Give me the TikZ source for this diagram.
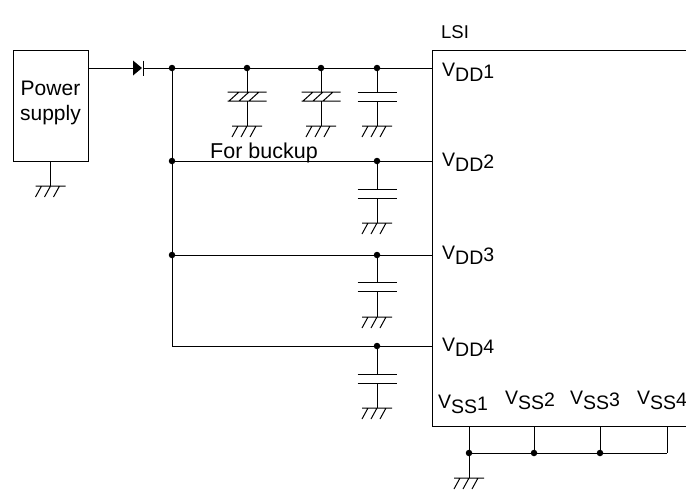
\documentclass[tikz,border=0pt]{standalone}
\usepackage{fontspec}
\setmainfont{Liberation Sans}
\newcommand\pinlab[2]{V\raisebox{-5pt}{#1}\raisebox{-2.5pt}{#2}}
\tikzset{
  wire/.style={line width=1pt},
  jdot/.style={circle, fill, inner sep=0pt, minimum size=6.5pt},
  lbl/.style={anchor=base west, inner sep=0pt, font=\fontsize{19.5}{23}\selectfont},
  big/.style={anchor=base, inner sep=0pt, font=\fontsize{21}{25}\selectfont},
  gnd/.pic={\draw[wire] (-15,0) -- (15,0) (-15,11) -- (-9,0) (-6,11) -- (0,0) (3,11) -- (9,0);},
  capp/.pic={\draw[wire] (-19.5,0) -- (19.5,0) (-19.5,9) -- (19.5,9);},
  hcapp/.pic={\draw[wire] (-19.5,0) -- (19.5,0) (-19.5,9) -- (19.5,9)
      (-18,9) -- (-8,0) (-8,9) -- (2,0) (2,9) -- (12,0);},
}
\begin{document}
\begin{tikzpicture}[x=1pt,y=-1pt]
\useasboundingbox (0,0) rectangle (686,491);
% power supply
\node[draw, wire, minimum width=75pt, minimum height=111pt, inner sep=0pt] (ps) at (50.5,105.5) {};
\node[big] (pst1) at (50.5,95) {Power};
\node[big] (pst2) at (50.5,120) {supply};
\coordinate (psg) at (50.5,186);
\draw[wire] (ps.south) -- (psg);
\pic at (psg) {gnd};
% diode
\coordinate (pso) at (88,68);
\coordinate (da) at (133,68);
\coordinate (dk) at (143,68);
\fill (133,60.5) -- (142,68) -- (133,75.5) -- cycle;
\draw[wire] (143,60.5) -- (143,75.5);
% junctions
\coordinate (n1) at (172,68);
\coordinate (n2) at (172,161);
\coordinate (n3) at (172,255);
\coordinate (n4) at (172,346);
\coordinate (p1) at (432,68);
\coordinate (p2) at (432,161);
\coordinate (p3) at (432,255);
\coordinate (p4) at (432,346);
\draw[wire] (pso) -- (da) (dk) -- (p1);
\draw[wire] (n1) -- (n4) -- (p4);
\draw[wire] (n2) -- (p2) (n3) -- (p3);
% capacitors
\foreach \n/\x/\y/\a/\g/\k in {c1/247/68/24/58/hcapp, c2/321/68/24/58/hcapp, c3/377/68/24/58/capp,
    t2/377/161/28/62/capp, t3/377/255/27/62/capp, t4/377/346/28/62/capp}{
  \coordinate (\n) at (\x,\y);
  \coordinate (\n t) at (\x,\y+\a);
  \coordinate (\n b) at (\x,\y+\a+9);
  \coordinate (\n g) at (\x,\y+\g);
  \draw[wire] (\n) -- (\n t) (\n b) -- (\n g);
  \pic at (\n t) {\k};
  \pic at (\n g) {gnd};
  \node[jdot] at (\n) {};
}
\foreach \n in {n1,n2,n3}{\node[jdot] at (\n) {};}
\node[anchor=base west, inner sep=0pt, font=\fontsize{21.5}{25}\selectfont] (buk) at (210,158) {For buckup};
% LSI box
\coordinate (lt) at (686,50);
\coordinate (ltl) at (432,50);
\coordinate (lbl) at (432,426);
\coordinate (lb) at (686,426);
\draw[wire] (lt) -- (ltl) -- (lbl) -- (lb);
\node[anchor=base west, inner sep=0pt, font=\fontsize{18.5}{22}\selectfont] (lsi) at (441,38) {LSI};
\node[lbl] (vdd1) at (442,76) {\pinlab{DD}{1}};
\node[lbl] (vdd2) at (442,166) {\pinlab{DD}{2}};
\node[lbl] (vdd3) at (442,259) {\pinlab{DD}{3}};
\node[lbl] (vdd4) at (442,351) {\pinlab{DD}{4}};
\node[lbl] (vss1) at (438,408) {\pinlab{SS}{1}};
\node[lbl] (vss2) at (505,404) {\pinlab{SS}{2}};
\node[lbl] (vss3) at (570,404) {\pinlab{SS}{3}};
\node[lbl] (vss4) at (637,404) {\pinlab{SS}{4}};
% VSS bus
\foreach \i/\x in {1/469,2/534,3/600,4/667}{
  \coordinate (s\i) at (\x,426);
  \coordinate (b\i) at (\x,453);
  \draw[wire] (s\i) -- (b\i);
}
\draw[wire] (b1) -- (b4);
\coordinate (vg) at (469,478);
\draw[wire] (b1) -- (vg);
\pic at (vg) {gnd};
\foreach \n in {b1,b2,b3}{\node[jdot] at (\n) {};}
\end{tikzpicture}
\end{document}
